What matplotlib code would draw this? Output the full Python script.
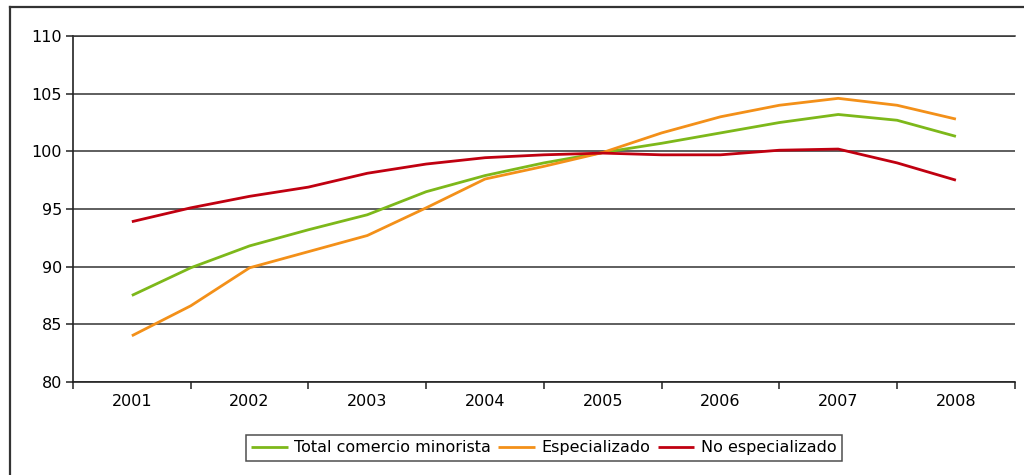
import matplotlib.pyplot as plt
from matplotlib.lines import Line2D
import numpy as np

years = ["2001", "2002", "2003", "2004", "2005", "2006", "2007", "2008"]
# half-year steps, expressed as offsets from the 2001 category
periods = [0, 0.5, 1, 1.5, 2, 2.5, 3, 3.5, 4, 4.5, 5, 5.5, 6, 6.5, 7]

total = [87.5, 89.9, 91.8, 93.2, 94.5, 96.5, 97.9, 99.0, 99.9, 100.7,
         101.6, 102.5, 103.2, 102.7, 101.3]
especializado = [84.0, 86.6, 89.9, 91.3, 92.7, 95.1, 97.6, 98.7, 99.9, 101.6,
                 103.0, 104.0, 104.6, 104.0, 102.8]
no_especializado = [93.9, 95.1, 96.1, 96.9, 98.1, 98.9, 99.45, 99.7, 99.85, 99.7,
                    99.7, 100.1, 100.2, 99.0, 97.5]

labels = ["Total comercio minorista", "Especializado", "No especializado"]
colors = ["#7DB81A", "#F39019", "#C00010"]

fig = plt.figure(figsize=(10.24, 4.75), dpi=100)
ax = fig.add_axes([0.0713, 0.196, 0.9197, 0.728])

for series, label, color in zip([total, especializado, no_especializado], labels, colors):
    ax.plot(periods, series, color=color, lw=2.0, label=label, solid_capstyle="butt")

ax.set_ylim(80, 110)
ax.set_yticks(np.arange(80, 111, 5))
ax.set_xlim(-0.5, len(years) - 0.5)
ax.set_xticks(np.arange(-0.5, len(years), 1))
ax.set_xticklabels([])
ax.set_xticks(np.arange(len(years)), minor=True)
ax.set_xticklabels(years, minor=True)

ax.yaxis.grid(True, color="#333333", lw=1.1)
ax.set_axisbelow(True)
ax.spines["right"].set_visible(False)
ax.spines["top"].set_color("#333333")
ax.spines["top"].set_linewidth(1.1)
for side in ["left", "bottom"]:
    ax.spines[side].set_color("#222222")
    ax.spines[side].set_linewidth(1.2)

ax.tick_params(axis="y", length=5, width=1.1, color="#222222", labelsize=11.5, pad=3)
ax.tick_params(axis="x", which="major", length=5, width=1.1, color="#222222")
ax.tick_params(axis="x", which="minor", length=0, labelsize=11.5, pad=9)

leg = fig.legend(loc="center", bbox_to_anchor=(0.531, 0.057), ncol=3, fontsize=11.5,
                 frameon=True, fancybox=False, edgecolor="#222222",
                 handlelength=2.3, handletextpad=0.4, columnspacing=0.45,
                 borderpad=0.35)
leg.get_frame().set_linewidth(1.1)

# outer chart border (top and left edges visible)
fig.add_artist(Line2D([0.0098, 1.0], [0.985, 0.985], color="#333333", lw=1.6))
fig.add_artist(Line2D([0.0098, 0.0098], [0.0, 0.985], color="#333333", lw=1.6))

fig.savefig("out.png", dpi=100)
